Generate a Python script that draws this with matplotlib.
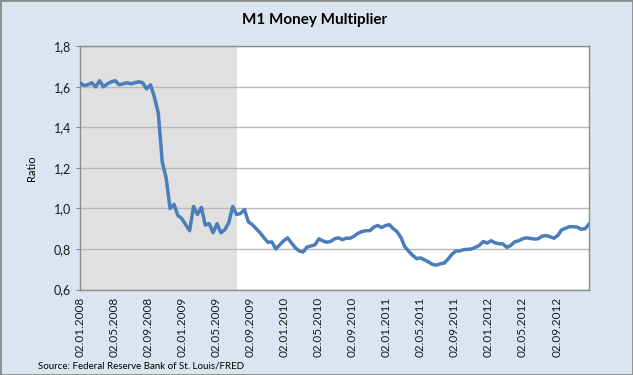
import matplotlib
matplotlib.use("Agg")
import matplotlib.pyplot as plt
import matplotlib.dates as mdates
import numpy as np
import pandas as pd

# biweekly M1 money multiplier
start_date = "2008-01-02"
ratio = [
    1.62, 1.607, 1.61, 1.62, 1.60, 1.63, 1.60, 1.615, 1.625, 1.63,
    1.61, 1.615, 1.62, 1.615, 1.62, 1.625, 1.62, 1.59, 1.61, 1.55,
    1.47, 1.23, 1.15, 1.00, 1.02, 0.965, 0.95, 0.92, 0.89, 1.01,
    0.97, 1.005, 0.918, 0.925, 0.88, 0.925, 0.88, 0.895, 0.93, 1.01,
    0.97, 0.975, 0.995, 0.934, 0.92, 0.90, 0.88, 0.855, 0.833, 0.835,
    0.80, 0.82, 0.84, 0.855, 0.83, 0.806, 0.79, 0.785, 0.81, 0.815,
    0.82, 0.85, 0.84, 0.833, 0.837, 0.85, 0.855, 0.846, 0.853, 0.853,
    0.863, 0.877, 0.886, 0.89, 0.89, 0.907, 0.916, 0.906, 0.915, 0.92,
    0.90, 0.885, 0.855, 0.81, 0.788, 0.768, 0.752, 0.756, 0.746, 0.736,
    0.724, 0.72, 0.727, 0.73, 0.75, 0.774, 0.79, 0.79, 0.797, 0.798,
    0.80, 0.808, 0.818, 0.837, 0.829, 0.841, 0.83, 0.826, 0.825, 0.808,
    0.817, 0.835, 0.84, 0.85, 0.855, 0.852, 0.849, 0.85, 0.863, 0.866,
    0.861, 0.853, 0.866, 0.894, 0.902, 0.91, 0.91, 0.908, 0.897, 0.90,
    0.922,
]
dates = pd.date_range(start_date, periods=len(ratio), freq="14D")

recession_start = "2008-01-02"
recession_end = "2009-07-16"

# labels every four months, on the 2nd
tick_dates = pd.date_range("2008-01-01", "2012-09-01", freq="4MS") + pd.Timedelta(days=1)

bg = "#dbe5f1"
fig = plt.figure(figsize=(6.33, 3.75), dpi=100, facecolor=bg)

ax = fig.add_axes([80 / 633, 1 - 289.5 / 375, 509 / 633, (289.5 - 46.3) / 375])
ax.set_facecolor("white")

ax.axvspan(pd.Timestamp(recession_start), pd.Timestamp(recession_end),
           color="#e0e0e0", lw=0, zorder=0)
ax.plot(dates, ratio, color="#4a7ebb", lw=2.5, zorder=3, solid_joinstyle="round")

ax.set_xlim(dates[0], dates[-1])
ax.set_ylim(0.6, 1.8)
yt = np.arange(0.6, 1.81, 0.2)
ax.set_yticks(yt)
ax.set_yticklabels([f"{v:.1f}".replace(".", ",") for v in yt])
ax.yaxis.grid(True, color="#b8b8b8", lw=1)
ax.set_axisbelow(True)

ax.set_xticks(tick_dates)
ax.xaxis.set_major_formatter(mdates.DateFormatter("%d.%m.%Y"))
ax.tick_params(axis="x", length=0, rotation=90, labelsize=8.5, pad=5, colors="#1a1a1a")
ax.tick_params(axis="y", length=3, labelsize=9, color="#8c8c8c", colors="#1a1a1a")
for lab in ax.get_xticklabels() + ax.get_yticklabels():
    lab.set_family("Lato")

for s in ax.spines.values():
    s.set_color("#8c8c8c")
    s.set_linewidth(1)

ax.set_ylabel("Ratio", fontsize=8, family="Lato", labelpad=12)
fig.text(315 / 633, 1 - 20 / 375, "M1 Money Multiplier", ha="center", va="center",
         fontsize=11, fontweight="bold", family="Lato")
fig.text(38 / 633, 1 - 366 / 375, "Source: Federal Reserve Bank of St. Louis/FRED",
         ha="left", va="center", fontsize=7, family="Lato")

# grey frame round the whole chart
fig.add_artist(plt.Rectangle((0, 0), 1, 1, transform=fig.transFigure, fill=False,
                             edgecolor="#8c8c8c", lw=2))

fig.savefig("out.png", dpi=100, facecolor=bg)
